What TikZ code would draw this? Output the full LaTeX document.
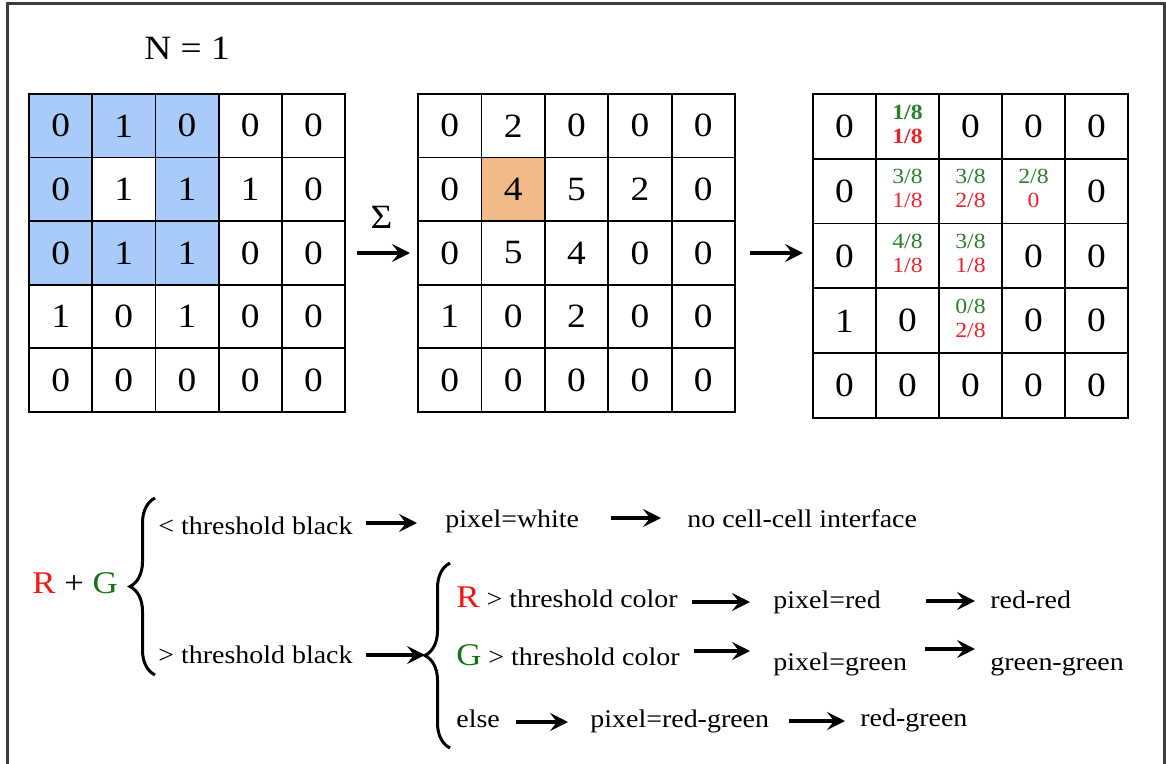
\documentclass[tikz,border=0pt]{standalone}
\usepackage{fontspec}
\setmainfont{Liberation Serif}[FakeStretch=1.1]
\usepackage{xcolor}
\usetikzlibrary{positioning,calc,arrows.meta,backgrounds,decorations.pathreplacing}

\definecolor{cellblue}{RGB}{168,203,250}
\definecolor{cellorange}{RGB}{241,187,137}
\definecolor{fracgreen}{RGB}{40,130,40}
\definecolor{fracred}{RGB}{232,35,45}
\definecolor{bigred}{RGB}{245,20,20}
\definecolor{biggreen}{RGB}{20,115,20}
\definecolor{framegray}{RGB}{60,60,60}

\newcommand\fr[2]{{\fontsize{10.8}{12}\selectfont\begin{tabular}{@{}c@{}}\textcolor{fracgreen}{#1}\\\textcolor{fracred}{#2}\end{tabular}}}
\newcommand\link[5]{%
  \coordinate (t) at ($(#1.base east)+(#3,-#4)$);
  \draw[arr, shorten >=#5] (t) -- (t -| #2.west);}

\tikzset{
  cell/.style={draw, line width=0.9pt, outer sep=0pt, inner sep=0pt, anchor=north west, font=\fontsize{17}{19}\selectfont},
  txt/.style={inner sep=0pt, anchor=base west, font=\fontsize{12.7}{15}\selectfont},
  arr/.style={line width=2pt, -{Stealth[length=9pt,width=9pt,inset=3.5pt]}},
  brace/.style={decorate, decoration={brace, amplitude=12.5pt}, line width=1.5pt},
  frame/.style={line width=1.5pt, draw=framegray}
}

\begin{document}
\begin{tikzpicture}[x=0.5pt,y=-0.5pt]
    \useasboundingbox (0,0) rectangle (1166,764);
    \draw[frame] (7,770) -- (7,4) -- (1164,4) -- (1164,770);
    \node[font=\fontsize{17}{19}\selectfont] (title) at (187,48) {N = 1};

    \foreach \row [count=\r] in {{0,1,0,0,0},{0,1,1,1,0},{0,1,1,0,0},{1,0,1,0,0},{0,0,0,0,0}}
        \foreach \v [count=\c] in \row
            \node[cell, minimum width=31.6pt, minimum height=31.8pt] (a-\r-\c) at ({29+63.2*(\c-1)},{94+63.6*(\r-1)}) {\v};
    \foreach \row [count=\r] in {{0,2,0,0,0},{0,4,5,2,0},{0,5,4,0,0},{1,0,2,0,0},{0,0,0,0,0}}
        \foreach \v [count=\c] in \row
            \node[cell, minimum width=31.7pt, minimum height=31.8pt] (b-\r-\c) at ({418+63.4*(\c-1)},{94+63.6*(\r-1)}) {\v};
    \foreach \row [count=\r] in {{0,{\bfseries\fr{1/8}{1/8}},0,0,0},{0,\fr{3/8}{1/8},\fr{3/8}{2/8},\fr{2/8}{0},0},{0,\fr{4/8}{1/8},\fr{3/8}{1/8},0,0},{1,0,\fr{0/8}{2/8},0,0},{0,0,0,0,0}}
        \foreach \v [count=\c] in \row
            \node[cell, minimum width=31.5pt, minimum height=32.4pt] (c-\r-\c) at ({813+63*(\c-1)},{94+64.8*(\r-1)}) {\v};

    \begin{scope}[on background layer]
        \fill[cellblue] (a-1-1.north west) rectangle (a-1-3.south east);
        \fill[cellblue] (a-2-1.north west) rectangle (a-2-1.south east);
        \fill[cellblue] (a-2-3.north west) rectangle (a-2-3.south east);
        \fill[cellblue] (a-3-1.north west) rectangle (a-3-3.south east);
        \fill[cellorange] (b-2-2.north west) rectangle (b-2-2.south east);
    \end{scope}

    \draw[arr, shorten <=6pt, shorten >=4pt] (a-3-5.east) -- (b-3-1.west);
    \node[font=\fontsize{17}{19}\selectfont] (sum) at ($(a-3-5.east)!0.5!(b-3-1.west)+(0,-36)$) {Σ};
    \draw[arr, shorten <=7.5pt, shorten >=5pt] (b-3-5.east) -- (b-3-5.east -| c-3-1.west);

    \node[txt, font=\fontsize{15.8}{18}\selectfont] (rg) at (32,593) {\textcolor{bigred}{R} + \textcolor{biggreen}{G}};
    \draw[brace] (155,675) -- (155,498);
    \draw[brace] (450,748) -- (450,563);
    \coordinate (split) at (425,655);

    \node[txt] (lt) at (158,534) {< threshold black};
    \node[txt] (pw) at (445,527) {pixel=white};
    \node[txt] (nc) at (687,527) {no cell-cell interface};
    \node[txt] (gt) at (158,663) {> threshold black};
    \node[txt] (rc) at (456,607) {{\fontsize{15.8}{18}\selectfont\color{bigred}R} > threshold color};
    \node[txt] (gc) at (456,665) {{\fontsize{15.8}{18}\selectfont\color{biggreen}G} > threshold color};
    \node[txt] (el) at (456,727) {else};
    \node[txt] (pr) at (773,608) {pixel=red};
    \node[txt] (rr) at (990,608) {red-red};
    \node[txt] (pg) at (773,670) {pixel=green};
    \node[txt] (gg) at (990,670) {green-green};
    \node[txt] (prg) at (590,727) {pixel=red-green};
    \node[txt] (rgn) at (860,726) {red-green};

    \link{lt}{pw}{13}{11}{14pt}
    \link{pw}{nc}{31}{9}{13pt}
    \coordinate (t) at ($(gt.base east)+(13,-8)$);
    \draw[arr] (t) -- (t -| split);
    \link{rc}{pr}{14}{5}{11.5pt}
    \link{pr}{rr}{45}{7}{7.5pt}
    \link{gc}{pg}{14}{14}{11.5pt}
    \link{pg}{gg}{18}{21}{7.5pt}
    \link{el}{prg}{16}{5}{11pt}
    \link{prg}{rgn}{20}{6}{7.5pt}
\end{tikzpicture}
\end{document}
